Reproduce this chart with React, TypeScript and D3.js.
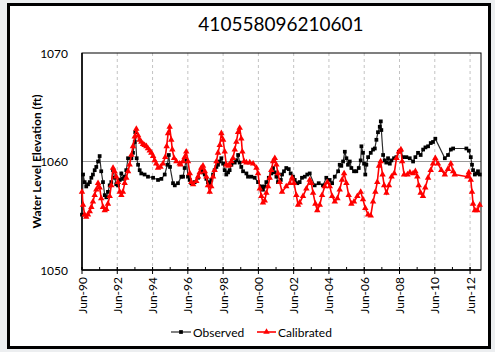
import React from "react";
import * as d3 from "d3";

// Decimal years for each sample, and water level elevation (ft)
const obsYears = [
  1990.45, 1990.51, 1990.6, 1990.69, 1990.79, 1990.89, 1990.98, 1991.07, 1991.17, 1991.26,
  1991.36, 1991.45, 1991.54, 1991.64, 1991.74, 1991.83, 1991.92, 1992.02, 1992.11, 1992.21,
  1992.3, 1992.39, 1992.49, 1992.59, 1992.68, 1992.77, 1992.87, 1992.96, 1993.06, 1993.25,
  1993.34, 1993.44, 1993.47, 1993.55, 1993.63, 1993.72, 1993.81, 1994.0, 1994.19, 1994.48,
  1994.76, 1994.95, 1995.14, 1995.29, 1995.37, 1995.44, 1995.61, 1995.71, 1995.89, 1996.08,
  1996.18, 1996.27, 1996.36, 1996.46, 1996.56, 1996.65, 1996.84, 1997.03, 1997.21, 1997.31,
  1997.41, 1997.5, 1997.59, 1997.69, 1997.78, 1997.88, 1997.97, 1998.07, 1998.16, 1998.26,
  1998.35, 1998.45, 1998.54, 1998.63, 1998.73, 1998.82, 1998.92, 1999.11, 1999.2, 1999.3,
  1999.39, 1999.48, 1999.58, 1999.77, 1999.86, 2000.05, 2000.24, 2000.43, 2000.62, 2000.71,
  2000.81, 2000.9, 2001.04, 2001.18, 2001.28, 2001.38, 2001.47, 2001.56, 2001.72, 2001.79,
  2001.9, 2002.03, 2002.17, 2002.28, 2002.41, 2002.51, 2002.66, 2002.79, 2002.92, 2003.08,
  2003.22, 2003.36, 2003.64, 2003.87, 2004.11, 2004.3, 2004.49, 2004.63, 2004.78, 2004.97,
  2005.06, 2005.15, 2005.25, 2005.35, 2005.44, 2005.53, 2005.63, 2005.72, 2005.87, 2006.0,
  2006.14, 2006.25, 2006.29, 2006.38, 2006.44, 2006.51, 2006.57, 2006.67, 2006.82, 2006.95,
  2007.05, 2007.14, 2007.23, 2007.33, 2007.39, 2007.42, 2007.52, 2007.61, 2007.7, 2007.8,
  2007.9, 2007.99, 2008.14, 2008.27, 2008.41, 2008.52, 2008.65, 2008.84, 2009.03, 2009.22,
  2009.35, 2009.5, 2009.65, 2009.79, 2009.92, 2010.07, 2010.22, 2010.35, 2010.48, 2011.02,
  2011.2, 2011.36, 2011.49, 2012.24, 2012.38, 2012.49, 2012.56, 2012.62, 2012.72, 2012.81,
  2012.9, 2013.0,
];
const obsValues = [
  1055.1, 1058.8, 1058.1, 1057.7, 1057.9, 1058.1, 1058.5, 1058.8, 1059.2, 1059.5,
  1060.0, 1060.5, 1059.1, 1058.1, 1056.9, 1056.7, 1057.2, 1057.8, 1058.1, 1059.2,
  1058.5, 1057.9, 1057.8, 1058.3, 1058.9, 1058.4, 1058.6, 1059.2, 1060.3, 1060.3,
  1060.8, 1061.8, 1062.7, 1060.3, 1059.7, 1059.2, 1058.9, 1058.8, 1058.6, 1058.5,
  1058.3, 1058.4, 1058.8, 1059.7, 1060.6, 1059.5, 1058.0, 1057.8, 1058.0, 1058.6,
  1058.6, 1059.4, 1060.2, 1058.6, 1058.3, 1058.0, 1058.1, 1058.5, 1059.2, 1059.0,
  1058.8, 1058.4, 1058.1, 1058.0, 1058.3, 1058.8, 1059.2, 1059.5, 1059.7, 1060.0,
  1060.3, 1059.8, 1059.2, 1058.8, 1059.0, 1059.2, 1059.7, 1059.9, 1060.1, 1060.6,
  1059.9, 1059.5, 1059.1, 1058.9, 1058.6, 1058.6, 1058.5, 1058.1, 1057.7, 1057.4,
  1057.7, 1058.1, 1058.5, 1058.9, 1059.4, 1059.0, 1058.6, 1058.1, 1058.3, 1058.8,
  1059.1, 1059.4, 1059.3, 1058.9, 1058.6, 1058.3, 1058.0, 1058.1, 1058.5, 1058.6,
  1058.8, 1058.9, 1057.8, 1058.0, 1057.8, 1058.5, 1058.3, 1058.0, 1058.6, 1059.1,
  1059.7, 1059.6, 1060.0, 1060.9, 1060.3, 1059.7, 1060.0, 1059.4, 1059.1, 1059.1,
  1059.4, 1060.1, 1061.4, 1060.8, 1059.8, 1058.8, 1059.7, 1060.4, 1060.8, 1061.1,
  1061.2, 1062.0, 1062.7, 1063.2, 1063.7, 1062.9, 1060.6, 1060.1, 1059.9, 1060.3,
  1059.8, 1060.1, 1060.3, 1060.4, 1060.9, 1061.0, 1060.4, 1060.4, 1060.3, 1060.0,
  1060.4, 1060.8, 1060.6, 1061.1, 1061.3, 1061.4, 1061.7, 1061.8, 1062.1, 1060.3,
  1060.6, 1061.1, 1061.2, 1061.2, 1061.0, 1060.4, 1059.7, 1059.2, 1058.8, 1058.9,
  1059.1, 1058.8,
];

const calYears = [
  1990.45, 1990.51, 1990.6, 1990.69, 1990.79, 1990.89, 1990.98, 1991.07, 1991.17, 1991.26,
  1991.36, 1991.45, 1991.54, 1991.64, 1991.74, 1991.83, 1991.92, 1992.02, 1992.11, 1992.21,
  1992.3, 1992.39, 1992.49, 1992.59, 1992.68, 1992.77, 1992.87, 1992.96, 1993.06, 1993.15,
  1993.25, 1993.34, 1993.44, 1993.53, 1993.63, 1993.72, 1993.81, 1993.91, 1994.0, 1994.1,
  1994.19, 1994.29, 1994.38, 1994.48, 1994.57, 1994.66, 1994.76, 1994.9, 1995.04, 1995.17,
  1995.25, 1995.33, 1995.42, 1995.51, 1995.57, 1995.67, 1995.8, 1995.99, 1996.04, 1996.17,
  1996.27, 1996.36, 1996.46, 1996.56, 1996.65, 1996.75, 1996.93, 1997.03, 1997.12, 1997.21,
  1997.31, 1997.41, 1997.5, 1997.59, 1997.69, 1997.78, 1997.88, 1997.97, 1998.07, 1998.16,
  1998.26, 1998.35, 1998.45, 1998.54, 1998.63, 1998.73, 1998.82, 1998.92, 1999.01, 1999.11,
  1999.2, 1999.3, 1999.39, 1999.48, 1999.54, 1999.64, 1999.77, 1999.96, 2000.15, 2000.34,
  2000.43, 2000.53, 2000.62, 2000.71, 2000.81, 2000.9, 2001.0, 2001.09, 2001.18, 2001.28,
  2001.38, 2001.47, 2001.56, 2001.66, 2001.79, 2002.03, 2002.23, 2002.36, 2002.47, 2002.6,
  2002.7, 2002.79, 2002.98, 2003.17, 2003.36, 2003.45, 2003.55, 2003.68, 2003.79, 2003.93,
  2004.06, 2004.21, 2004.36, 2004.5, 2004.63, 2004.78, 2004.93, 2005.06, 2005.19, 2005.31,
  2005.44, 2005.57, 2005.72, 2005.87, 2006.06, 2006.25, 2006.38, 2006.51, 2006.67, 2006.82,
  2006.95, 2007.08, 2007.19, 2007.29, 2007.38, 2007.49, 2007.58, 2007.71, 2007.85, 2008.0,
  2008.15, 2008.28, 2008.42, 2008.53, 2008.6, 2008.71, 2008.9, 2009.04, 2009.22, 2009.35,
  2009.46, 2009.54, 2009.65, 2009.78, 2009.91, 2010.07, 2010.22, 2010.35, 2010.48, 2010.63,
  2010.82, 2011.02, 2011.2, 2011.36, 2011.49, 2011.58, 2012.3, 2012.38, 2012.49, 2012.56,
  2012.62, 2012.72, 2012.86, 2013.0,
];
const calValues = [
  1057.2, 1056.0, 1055.1, 1054.9, 1055.1, 1055.4, 1055.8, 1056.3, 1056.9, 1057.4,
  1058.0, 1057.6, 1056.6, 1055.8, 1055.5, 1055.6, 1056.1, 1056.8, 1057.8, 1059.4,
  1059.1, 1058.6, 1058.1, 1057.2, 1056.9, 1057.2, 1058.0, 1058.5, 1059.1, 1059.7,
  1060.6, 1061.4, 1062.3, 1063.0, 1062.4, 1062.0, 1061.8, 1061.6, 1061.5, 1061.4,
  1061.2, 1061.0, 1060.8, 1060.5, 1060.1, 1059.8, 1059.4, 1059.5, 1059.8, 1060.4,
  1061.4, 1062.6, 1063.2, 1062.0, 1061.1, 1060.3, 1060.0, 1059.8, 1059.7, 1060.0,
  1060.4, 1060.9, 1060.0, 1058.9, 1058.1, 1057.9, 1058.2, 1058.6, 1059.0, 1059.4,
  1059.6, 1059.1, 1058.6, 1057.8, 1057.2, 1057.7, 1058.6, 1059.2, 1060.0, 1060.8,
  1061.5, 1062.6, 1062.0, 1060.9, 1059.7, 1059.6, 1059.7, 1060.0, 1060.3, 1061.1,
  1061.8, 1062.7, 1063.1, 1062.1, 1060.9, 1060.0, 1059.9, 1059.9, 1059.8, 1059.4,
  1058.9, 1057.5, 1056.8, 1056.2, 1056.4, 1057.1, 1057.7, 1058.5, 1059.2, 1060.0,
  1060.3, 1059.7, 1058.9, 1058.1, 1057.2, 1057.7, 1058.0, 1058.5, 1058.0, 1056.9,
  1056.0, 1056.2, 1056.8, 1057.5, 1058.3, 1058.0, 1057.1, 1056.1, 1055.5, 1056.0,
  1056.9, 1057.7, 1058.1, 1057.7, 1056.8, 1056.3, 1056.6, 1057.4, 1058.3, 1058.9,
  1058.0, 1056.9, 1056.1, 1056.3, 1056.8, 1057.2, 1056.5, 1055.7, 1055.1, 1055.0,
  1056.3, 1057.2, 1058.1, 1059.6, 1060.0, 1058.8, 1057.8, 1057.1, 1057.8, 1058.6,
  1058.9, 1060.3, 1060.9, 1061.1, 1060.0, 1058.8, 1058.8, 1059.0, 1058.9, 1059.1,
  1058.6, 1057.8, 1057.1, 1056.8, 1057.6, 1058.5, 1059.2, 1059.8, 1060.3, 1059.8,
  1059.2, 1058.8, 1059.3, 1059.8, 1059.1, 1058.8, 1058.6, 1059.0, 1058.3, 1057.2,
  1056.1, 1055.5, 1055.5, 1056.0,
];

const xTickLabels = [
  "Jun-90", "Jun-92", "Jun-94", "Jun-96", "Jun-98", "Jun-00",
  "Jun-02", "Jun-04", "Jun-06", "Jun-08", "Jun-10", "Jun-12",
];
const yTickValues = [1050, 1060, 1070];
const title = "410558096210601";
const yLabel = "Water Level Elevation (ft)";
const seriesNames = ["Observed", "Calibrated"];

const W = 495;
const H = 352;
const FONT = "Lato, 'Liberation Sans', sans-serif";

export default function App() {
  const left = 82;
  const right = 481;
  const top = 53;
  const bottom = 270;
  const startYear = 1990.45;
  const x = d3.scaleLinear().domain([startYear, 2013.07]).range([left, right]);
  const y = d3.scaleLinear().domain([1050, 1070]).range([bottom, top]);

  const obs = obsYears.map((t, i) => [t, obsValues[i]] as [number, number]);
  const cal = calYears.map((t, i) => [t, calValues[i]] as [number, number]);
  const line = d3
    .line<[number, number]>()
    .x((d) => x(d[0]))
    .y((d) => y(d[1]));

  const majorYears = xTickLabels.map((_, i) => startYear + 2 * i);
  const minorYears = d3.range(0, 23).map((k) => startYear + k);
  const tri = d3.symbol().type(d3.symbolTriangle).size(18)() as string;
  const sq = d3.symbol().type(d3.symbolSquare).size(14)() as string;

  return (
    <svg
      width={W}
      height={H}
      style={{ position: "fixed", left: 0, top: 0, display: "block" }}
      fontFamily={FONT}
    >
      <rect x={0} y={0} width={W} height={H} fill="#eceef0" />
      <rect x={8.5} y={4.5} width={481} height={343} fill="#ffffff" stroke="#000" strokeWidth={3} />

      <text x={281} y={31} textAnchor="middle" fontSize={19} fill="#000">
        {title}
      </text>

      {/* vertical dashed grid */}
      {majorYears.slice(1).map((t, i) => (
        <line
          key={"vg" + i}
          x1={x(t)}
          x2={x(t)}
          y1={top}
          y2={bottom}
          stroke="#b4b4b4"
          strokeWidth={0.8}
          strokeDasharray="3,3"
        />
      ))}
      {/* horizontal grid at 1060 */}
      <line x1={left} x2={right} y1={y(1060)} y2={y(1060)} stroke="#9a9a9a" strokeWidth={1} />

      {/* plot border */}
      <rect x={left} y={top} width={right - left} height={bottom - top} fill="none" stroke="#000" strokeWidth={1} />
      <line x1={left} x2={left} y1={top} y2={bottom} stroke="#000" strokeWidth={1.5} />
      <line x1={left} x2={right} y1={bottom} y2={bottom} stroke="#000" strokeWidth={1.5} />

      {/* x ticks */}
      {minorYears.map((t, i) => (
        <line key={"mt" + i} x1={x(t)} x2={x(t)} y1={bottom - 3} y2={bottom} stroke="#000" strokeWidth={1} />
      ))}
      {majorYears.map((t, i) => (
        <line key={"Mt" + i} x1={x(t)} x2={x(t)} y1={bottom - 3} y2={bottom + 4} stroke="#000" strokeWidth={1} />
      ))}
      {majorYears.map((t, i) => (
        <text
          key={"xl" + i}
          transform={`translate(${x(t)},${bottom + 7}) rotate(-90)`}
          textAnchor="end"
          dominantBaseline="central"
          fontSize={12}
          fill="#000"
        >
          {xTickLabels[i]}
        </text>
      ))}

      {/* y tick labels */}
      {yTickValues.map((v) => (
        <text key={"yl" + v} x={68} y={y(v)} textAnchor="end" dominantBaseline="central" fontSize={12} fill="#000">
          {v}
        </text>
      ))}
      <text
        transform={`translate(36,${(top + bottom) / 2}) rotate(-90)`}
        textAnchor="middle"
        dominantBaseline="central"
        fontSize={12}
        fontWeight="bold"
        fill="#000"
      >
        {yLabel}
      </text>

      {/* Observed */}
      <path d={line(obs) as string} fill="none" stroke="#2e2e2e" strokeWidth={1.2} />
      {obs.map((d, i) => (
        <path key={"o" + i} d={sq} transform={`translate(${x(d[0])},${y(d[1])})`} fill="#000" />
      ))}
      {/* Calibrated */}
      <path d={line(cal) as string} fill="none" stroke="#ff0000" strokeWidth={1.6} />
      {cal.map((d, i) => (
        <path key={"c" + i} d={tri} transform={`translate(${x(d[0])},${y(d[1])})`} fill="#ff0000" />
      ))}

      {/* legend */}
      <g>
        <line x1={171} x2={191} y1={332} y2={332} stroke="#2e2e2e" strokeWidth={1.2} />
        <path d={sq} transform="translate(181,332)" fill="#000" />
        <text x={193} y={332} dominantBaseline="central" fontSize={12} fill="#000">
          {seriesNames[0]}
        </text>
        <line x1={257} x2={276} y1={332} y2={332} stroke="#ff0000" strokeWidth={1.6} />
        <path d={tri} transform="translate(266.5,332)" fill="#ff0000" />
        <text x={278} y={332} dominantBaseline="central" fontSize={12} fill="#000">
          {seriesNames[1]}
        </text>
      </g>
    </svg>
  );
}
